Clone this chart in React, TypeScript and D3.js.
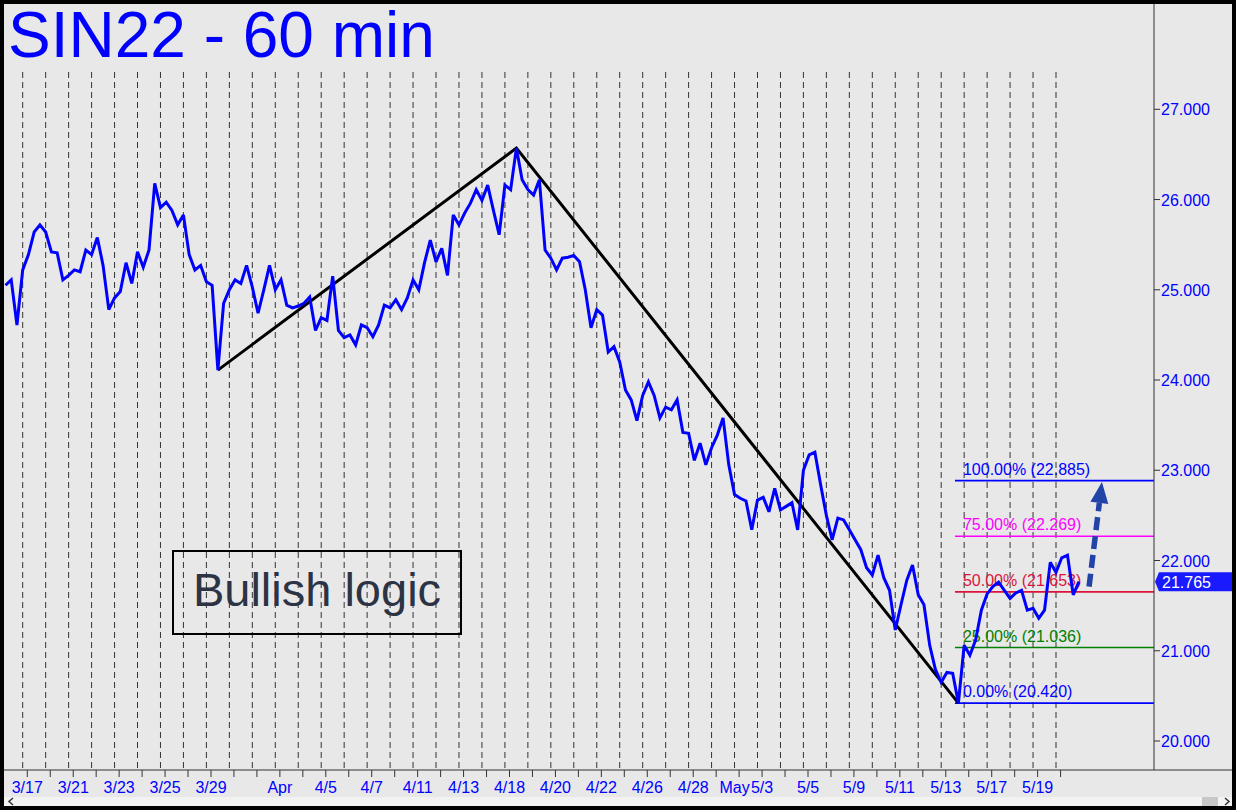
import React from "react";
import * as d3 from "d3";

const W = 1236;
const H = 810;

// ---- data ----
const dateLabels = ["3/17", "3/21", "3/23", "3/25", "3/29", "Apr", "4/5", "4/7", "4/11", "4/13", "4/18", "4/20", "4/22", "4/26", "4/28", "May", "5/3", "5/5", "5/9", "5/11", "5/13", "5/17", "5/19"];
const dateLabelDays = [0.2, 2.2, 4.2, 6.2, 8.2, 11.2, 13.2, 15.2, 17.2, 19.2, 21.2, 23.2, 25.2, 27.2, 29.2, 31.0, 32.2, 34.2, 36.2, 38.2, 40.2, 42.2, 44.2];
const gridDayCount = 46; // trading-day session boundaries 0..45
const priceTicks = [20, 21, 22, 23, 24, 25, 26, 27];

const firstBarDay = -0.75;
const barStepDays = 0.25;
const prices = [
  25.05, 25.11, 24.61, 25.22, 25.39, 25.64, 25.72, 25.64, 25.42, 25.41,
  25.11, 25.16, 25.22, 25.20, 25.44, 25.39, 25.58, 25.27, 24.78, 24.91,
  24.98, 25.30, 25.07, 25.42, 25.25, 25.44, 26.18, 25.91, 25.97, 25.88,
  25.72, 25.83, 25.39, 25.22, 25.27, 25.09, 25.05, 24.11, 24.85, 25.00,
  25.11, 25.07, 25.27, 25.03, 24.74, 25.00, 25.27, 25.00, 25.11, 24.83,
  24.80, 24.82, 24.85, 24.92, 24.55, 24.69, 24.66, 25.15, 24.55, 24.47,
  24.50, 24.39, 24.61, 24.58, 24.48, 24.61, 24.83, 24.80, 24.89, 24.78,
  24.91, 25.11, 25.00, 25.30, 25.55, 25.31, 25.46, 25.16, 25.83, 25.72,
  25.85, 25.96, 26.11, 25.99, 26.16, 25.88, 25.61, 26.16, 26.11, 26.57,
  26.22, 26.11, 26.05, 26.22, 25.44, 25.35, 25.22, 25.35, 25.36, 25.38,
  25.31, 25.00, 24.58, 24.78, 24.72, 24.31, 24.37, 24.20, 23.89, 23.78,
  23.55, 23.83, 23.98, 23.83, 23.58, 23.70, 23.67, 23.78, 23.42, 23.41,
  23.11, 23.30, 23.06, 23.25, 23.39, 23.58, 23.06, 22.73, 22.69, 22.66,
  22.34, 22.67, 22.70, 22.54, 22.80, 22.56, 22.60, 22.64, 22.34, 23.00,
  23.17, 23.20, 22.84, 22.50, 22.23, 22.47, 22.45, 22.34, 22.23, 22.12,
  21.92, 21.84, 22.06, 21.81, 21.67, 21.23, 21.51, 21.78, 21.95, 21.62,
  21.51, 21.06, 20.79, 20.65, 20.76, 20.75, 20.42, 21.06, 20.95, 21.12,
  21.45, 21.63, 21.71, 21.76, 21.67, 21.58, 21.64, 21.67, 21.45, 21.47,
  21.36, 21.45, 21.98, 21.87, 22.03, 22.06, 21.62, 21.765,
];

const pivotDays = [8.5, 21.5, 40.75];
const pivotPrices = [24.11, 26.57, 20.42];

const fibPcts = ["100.00%", "75.00%", "50.00%", "25.00%", "0.00%"];
const fibLevels = [22.885, 22.269, 21.653, 21.036, 20.42];
const fibColors = ["#0000ff", "#ff00ff", "#dc143c", "#008000", "#0000ff"];
const fibStartDay = 40.6;

const lastPrice = 21.765;
const arrowDays = [46.44, 47.0];
const arrowPrices = [21.71, 22.87];

const title = "SIN22 - 60 min";
const boxText = "Bullish logic";

// ---- layout ----
const plotLeft = 4;
const axisX = 1154;
const axisY = 770;
const plotTop = 72;

const x = d3.scaleLinear().domain([0, 45]).range([22.7, 1056]);
const y = d3.scaleLinear().domain([20, 27]).range([741, 109.3]);

const FONT = "'Liberation Sans', Arial, Helvetica, sans-serif";

export default function App() {
  const line = d3
    .line<number>()
    .x((_, i) => x(firstBarDay + i * barStepDays))
    .y((d) => y(d));
  const pricePath = line(prices) || "";

  const pivotPath =
    d3
      .line<number>()
      .x((_, i) => x(pivotDays[i]))
      .y((d) => y(d))(pivotPrices) || "";

  // arrow
  const ax0 = x(arrowDays[0]);
  const ay0 = y(arrowPrices[0]);
  const ax1 = x(arrowDays[1]);
  const ay1 = y(arrowPrices[1]);
  const ang = Math.atan2(ay1 - ay0, ax1 - ax0);
  const headLen = 21;
  const headHalf = 9;
  const bx = ax1 - headLen * Math.cos(ang);
  const by = ay1 - headLen * Math.sin(ang);
  const px = -Math.sin(ang);
  const py = Math.cos(ang);
  const head = `M${ax1},${ay1} L${bx + headHalf * px},${by + headHalf * py} L${bx - headHalf * px},${by - headHalf * py} Z`;

  const ly = y(lastPrice);

  return (
    <svg
      width={W}
      height={H}
      style={{ position: "fixed", left: 0, top: 0, display: "block" }}
      fontFamily={FONT}
    >
      <rect x={0} y={0} width={W} height={H} fill="#e8e8e8" />

      {/* day gridlines */}
      {d3.range(gridDayCount).map((i) => (
        <line
          key={"g" + i}
          x1={x(i)}
          x2={x(i)}
          y1={plotTop}
          y2={axisY}
          stroke="#333333"
          strokeWidth={1}
          strokeDasharray="6,4"
        />
      ))}

      {/* title */}
      <text x={8} y={57} fontSize={64} fill="#0000ff">
        {title}
      </text>

      {/* fib lines */}
      {fibLevels.map((v, i) => (
        <g key={"f" + i}>
          <line
            x1={x(fibStartDay)}
            x2={axisX}
            y1={y(v)}
            y2={y(v)}
            stroke={fibColors[i]}
            strokeWidth={1.6}
          />
          <text x={x(fibStartDay) + 8} y={y(v) - 6} fontSize={16} fill={fibColors[i]}>
            {`${fibPcts[i]} (${v.toFixed(3)})`}
          </text>
        </g>
      ))}

      {/* pivot lines */}
      <path d={pivotPath} fill="none" stroke="#000" strokeWidth={3} strokeLinejoin="miter" />

      {/* price */}
      <path d={pricePath} fill="none" stroke="#0000ff" strokeWidth={3} strokeLinejoin="miter" strokeMiterlimit={3} />

      {/* dashed arrow */}
      <line
        x1={ax0}
        y1={ay0}
        x2={bx}
        y2={by}
        stroke="#2244a8"
        strokeWidth={5.5}
        strokeDasharray="13,6"
      />
      <path d={head} fill="#2244a8" />

      {/* Bullish logic box */}
      <rect x={173} y={551} width={288} height={83} fill="none" stroke="#000" strokeWidth={2} />
      <text x={317} y={606} fontSize={47} fill="#2c3345" textAnchor="middle">
        {boxText}
      </text>

      {/* right axis */}
      <line x1={axisX} x2={axisX} y1={4} y2={axisY} stroke="#333" strokeWidth={1} />
      {priceTicks.map((v) => (
        <g key={"p" + v}>
          <line x1={axisX} x2={axisX + 6} y1={y(v)} y2={y(v)} stroke="#333" />
          <text x={axisX + 7} y={y(v) + 6} fontSize={16} fill="#0000ff">
            {v.toFixed(3)}
          </text>
        </g>
      ))}

      {/* last price marker */}
      <path
        d={`M${axisX + 1},${ly} L${axisX + 5},${ly - 9.5} L${W - 4},${ly - 9.5} L${W - 4},${ly + 9.5} L${axisX + 5},${ly + 9.5} Z`}
        fill="#1a1aff"
      />
      <text x={axisX + 8} y={ly + 6} fontSize={16} fill="#ffffff">
        {lastPrice.toFixed(3)}
      </text>

      {/* bottom axis */}
      <line x1={plotLeft} x2={W} y1={axisY} y2={axisY} stroke="#333" strokeWidth={1} />
      {d3.range(gridDayCount).map((i) => (
        <line key={"t" + i} x1={x(i + 0.2)} x2={x(i + 0.2)} y1={axisY} y2={axisY + 7} stroke="#333" />
      ))}
      {dateLabels.map((s, i) => (
        <text key={"d" + i} x={x(dateLabelDays[i])} y={793} fontSize={16} fill="#0000ff" textAnchor="middle">
          {s}
        </text>
      ))}

      {/* scrollbar */}
      <rect x={4} y={797} width={W - 8} height={9} fill="#f2f2f2" />
      <rect x={1202} y={797} width={16} height={9} fill="#c8c8c8" />
      <path d="M13,798 L9,801.5 L13,805" fill="none" stroke="#333" strokeWidth={1.5} />
      <path d="M1225,798 L1229,801.5 L1225,805" fill="none" stroke="#333" strokeWidth={1.5} />

      {/* outer frame */}
      <rect x={0} y={0} width={W} height={4} fill="#000" />
      <rect x={0} y={H - 4} width={W} height={4} fill="#000" />
      <rect x={0} y={0} width={4} height={H} fill="#000" />
      <rect x={W - 4} y={0} width={4} height={H} fill="#000" />
    </svg>
  );
}
